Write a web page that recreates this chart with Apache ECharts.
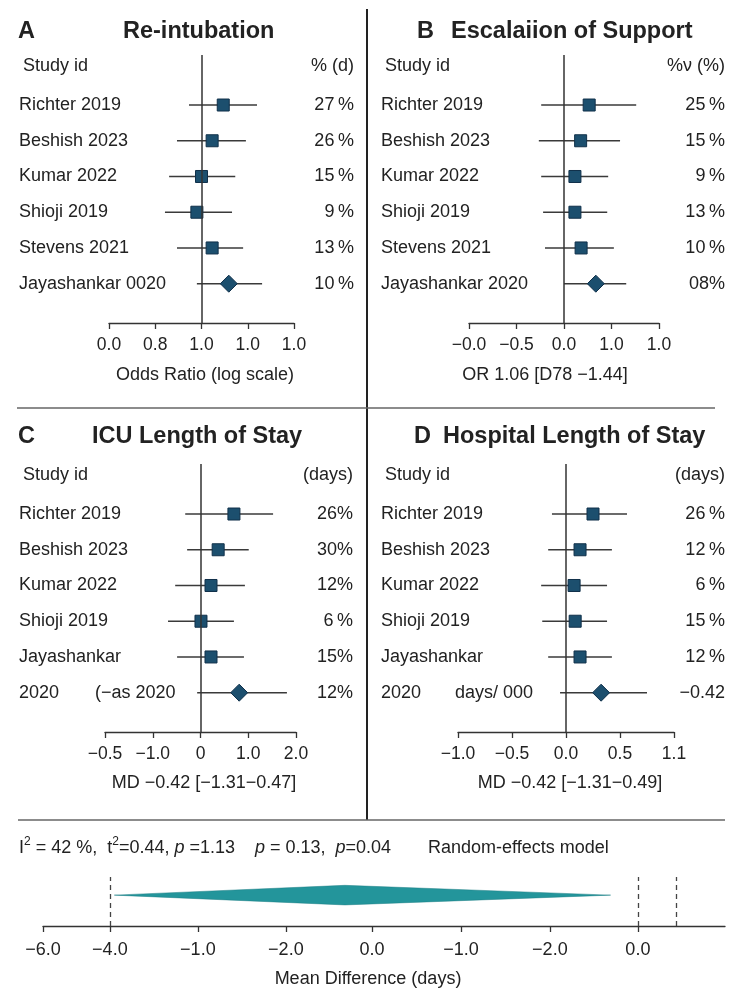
<!DOCTYPE html>
<html>
<head>
<meta charset="utf-8">
<script src="https://cdn.jsdelivr.net/npm/echarts@6/dist/echarts.min.js"></script>
<style>
    html, body { margin: 0; padding: 0; background: #fff; }
    #main { width: 750px; height: 1002px; }
</style>
</head>
<body>
<div id="main"></div>
<script>
// ============================================================
// Data (positions on each panel axis are in tick-index units)
// ============================================================

// A - Re-intubation
const studiesA = ['Richter 2019', 'Beshish 2023', 'Kumar 2022', 'Shioji 2019', 'Stevens 2021', 'Jayashankar 0020'];
const estA = [2.47, 2.23, 2.00, 1.90, 2.23, 2.59];
const loA = [1.73, 1.47, 1.30, 1.21, 1.47, 1.90];
const hiA = [3.20, 2.96, 2.73, 2.66, 2.90, 3.31];
const weightsA = ['27\u2009%', '26\u2009%', '15\u2009%', '9\u2009%', '13\u2009%', '10\u2009%'];
const ticksA = ['0.0', '0.8', '1.0', '1.0', '1.0'];

// B - Escalation of support
const studiesB = ['Richter 2019', 'Beshish 2023', 'Kumar 2022', 'Shioji 2019', 'Stevens 2021', 'Jayashankar 2020'];
const estB = [2.53, 2.35, 2.23, 2.23, 2.36, 2.67];
const loB = [1.52, 1.47, 1.52, 1.56, 1.60, 2.00];
const hiB = [3.52, 3.18, 2.93, 2.91, 3.05, 3.31];
const weightsB = ['25\u2009%', '15\u2009%', '9\u2009%', '13\u2009%', '10\u2009%', '08%'];
const ticksB = ['\u22120.0', '\u22120.5', '0.0', '1.0', '1.0'];

// C - ICU length of stay
const studiesC = ['Richter 2019', 'Beshish 2023', 'Kumar 2022', 'Shioji 2019', 'Jayashankar', '2020'];
const estC = [2.70, 2.37, 2.22, 2.01, 2.22, 2.81];
const loC = [1.68, 1.72, 1.47, 1.32, 1.51, 1.93];
const hiC = [3.52, 3.01, 2.93, 2.70, 2.91, 3.81];
const weightsC = ['26%', '30%', '12%', '6\u2009%', '15%', '12%'];
const ticksC = ['\u22120.5', '\u22121.0', '0', '1.0', '2.0'];

// D - Hospital length of stay
const studiesD = ['Richter 2019', 'Beshish 2023', 'Kumar 2022', 'Shioji 2019', 'Jayashankar', '2020'];
const estD = [2.50, 2.26, 2.15, 2.17, 2.26, 2.65];
const loD = [1.74, 1.67, 1.54, 1.56, 1.67, 1.89];
const hiD = [3.13, 2.85, 2.76, 2.76, 2.85, 3.50];
const weightsD = ['26\u2009%', '12\u2009%', '6\u2009%', '15\u2009%', '12\u2009%', '\u22120.42'];
const ticksD = ['\u22121.0', '\u22120.5', '0.0', '0.5', '1.1'];

// Bottom pooled panel
const pooled = [0.81, 3.43, 6.45];          // lo, est, hi on the bottom axis
const bottomTicks = [0, 0.76, 1.76, 2.76, 3.74, 4.75, 5.76, 6.76];
const bottomLabels = ['\u22126.0', '\u22124.0', '\u22121.0', '\u22122.0', '0.0', '\u22121.0', '\u22122.0', '0.0'];
const refLines = [0.76, 6.76, 7.2];

// ============================================================
// Layout
// ============================================================
const FONT = '"Liberation Sans", Arial, sans-serif';
const INK = '#222';
const ROWS_MIN = -0.4, ROWS_MAX = 7.1, GRID_H = 268;

const panels = [
    { letter: 'A', title: 'Re-intubation', studies: studiesA, est: estA, lo: loA, hi: hiA, w: weightsA, ticks: ticksA,
      head: '% (d)', axisName: 'Odds Ratio (log scale)', note: null,
      left: 109, right: 294, top: 55, textX: 19, wX: 354, letterX: 18, titleX: 123, titleY: 32, nameX: 205, nameY: 375 },
    { letter: 'B', title: 'Escalaiion of Support', studies: studiesB, est: estB, lo: loB, hi: hiB, w: weightsB, ticks: ticksB,
      head: '%\u03bd (%)', axisName: 'OR 1.06 [D78 \u22121.44]', note: null,
      left: 469, right: 659, top: 55, textX: 381, wX: 725, letterX: 417, titleX: 451, titleY: 32, nameX: 545, nameY: 375 },
    { letter: 'C', title: 'ICU Length of Stay', studies: studiesC, est: estC, lo: loC, hi: hiC, w: weightsC, ticks: ticksC,
      head: '(days)', axisName: 'MD \u22120.42 [\u22121.31\u22120.47]', note: '(\u2212as 2020', noteX: 95,
      left: 105, right: 296, top: 464, textX: 19, wX: 353, letterX: 18, titleX: 92, titleY: 437, nameX: 204, nameY: 783 },
    { letter: 'D', title: 'Hospital Length of Stay', studies: studiesD, est: estD, lo: loD, hi: hiD, w: weightsD, ticks: ticksD,
      head: '(days)', axisName: 'MD \u22120.42 [\u22121.31\u22120.49]', note: 'days/ 000', noteX: 455,
      left: 458, right: 674, top: 464, textX: 381, wX: 725, letterX: 414, titleX: 443, titleY: 437, nameX: 570, nameY: 783 }
];

const rowY = (p, r) => p.top + (r - ROWS_MIN) * GRID_H / (ROWS_MAX - ROWS_MIN);

function txt(x, y, text, extra) {
    return {
        type: 'text', x: x, y: y, silent: true,
        style: Object.assign({ text: text, font: '18px ' + FONT, fill: INK, align: 'left', verticalAlign: 'middle' }, extra || {})
    };
}

const grids = [], xAxes = [], yAxes = [], series = [], graphics = [];

panels.forEach((p, k) => {
    grids.push({ left: p.left, width: p.right - p.left, top: p.top, height: GRID_H });
    xAxes.push({
        gridIndex: k, type: 'value', min: 0, max: 4, interval: 1, position: 'bottom',
        axisLine: { onZero: false, lineStyle: { color: '#333', width: 1.3 } },
        axisTick: { length: 6, lineStyle: { color: '#333', width: 1.3 } },
        axisLabel: { margin: 13, fontSize: 17.5, fontFamily: FONT, color: INK, formatter: v => p.ticks[Math.round(v)] },
        splitLine: { show: false }
    });
    yAxes.push({ gridIndex: k, type: 'value', inverse: true, min: ROWS_MIN, max: ROWS_MAX, show: false });

    // confidence intervals
    series.push({
        type: 'custom', xAxisIndex: k, yAxisIndex: k, z: 2, silent: true,
        data: p.lo.map((l, i) => [l, p.hi[i], i + 1]),
        encode: { x: [0, 1], y: 2 },
        renderItem: (params, api) => {
            const a = api.coord([api.value(0), api.value(2)]);
            const b = api.coord([api.value(1), api.value(2)]);
            return { type: 'line', shape: { x1: a[0], y1: a[1], x2: b[0], y2: b[1] },
                     style: { stroke: '#3a3a3a', lineWidth: 1.4 } };
        }
    });
    // point estimates + null line
    series.push({
        type: 'scatter', xAxisIndex: k, yAxisIndex: k, z: 3, silent: true,
        data: p.est.map((e, i) => ({
            value: [e, i + 1],
            symbol: i === p.est.length - 1 ? 'diamond' : 'rect',
            symbolSize: i === p.est.length - 1 ? [17, 17] : 12
        })),
        itemStyle: { color: '#1c4f6e', borderColor: '#10304a', borderWidth: 1, opacity: 1 },
        markLine: {
            silent: true, symbol: 'none', label: { show: false },
            lineStyle: { color: '#333', width: 1.5, type: 'solid' },
            data: [{ xAxis: 2 }]
        }
    });

    // texts
    graphics.push(txt(p.letterX, p.titleY, p.letter, { font: 'bold 23.5px ' + FONT }));
    graphics.push(txt(p.titleX, p.titleY, p.title, { font: 'bold 23.5px ' + FONT }));
    graphics.push(txt(p.textX + 4, rowY(p, -0.1), 'Study id'));
    graphics.push(txt(p.wX, rowY(p, -0.1), p.head, { align: 'right' }));
    p.studies.forEach((s, i) => {
        graphics.push(txt(p.textX, rowY(p, i + 1), s));
        graphics.push(txt(p.wX, rowY(p, i + 1), p.w[i], { align: 'right' }));
    });
    if (p.note) graphics.push(txt(p.noteX, rowY(p, 6), p.note));
    graphics.push(txt(p.nameX, p.nameY, p.axisName, { align: 'center' }));
});

// ---- bottom pooled panel ----
grids.push({ left: 43, width: 682, top: 877, height: 49 });
xAxes.push({
    gridIndex: 4, type: 'value', min: 0, max: 7.75,
    axisLine: { onZero: false, lineStyle: { color: '#333', width: 1.3 } },
    axisTick: { length: 6, customValues: bottomTicks, lineStyle: { color: '#333', width: 1.3 } },
    axisLabel: {
        margin: 15, fontSize: 18, fontFamily: FONT, color: INK, customValues: bottomTicks,
        formatter: v => bottomLabels[bottomTicks.findIndex(t => Math.abs(t - v) < 1e-6)]
    },
    splitLine: { show: false }
});
yAxes.push({ gridIndex: 4, type: 'value', min: 0, max: 1, show: false });

const DIA_Y = 0.63, DIA_H = 0.2;
series.push({
    type: 'custom', xAxisIndex: 4, yAxisIndex: 4, silent: true, z: 3,
    data: [pooled],
    renderItem: (params, api) => {
        const lo = api.value(0), est = api.value(1), hi = api.value(2);
        return {
            type: 'polygon',
            shape: { points: [api.coord([lo, DIA_Y]), api.coord([est, DIA_Y + DIA_H]),
                              api.coord([hi, DIA_Y]), api.coord([est, DIA_Y - DIA_H])] },
            style: { fill: '#23959b', stroke: '#1d7f85', lineWidth: 0.5 }
        };
    }
});
series.push({
    type: 'scatter', xAxisIndex: 4, yAxisIndex: 4, data: [], silent: true,
    markLine: {
        silent: true, symbol: 'none', label: { show: false },
        lineStyle: { color: '#444', width: 1.3, type: [5, 4] },
        data: refLines.map(v => ({ xAxis: v }))
    }
});

graphics.push({
    type: 'text', x: 19, y: 848, silent: true,
    style: {
        text: '{n|I}{s|2}{n| = 42 %,  t}{s|2}{n|=0.44, }{i|p}{n| =1.13    }{i|p}{n| = 0.13,  }{i|p}{n|=0.04}',
        verticalAlign: 'middle', fill: INK,
        rich: {
            n: { fontSize: 18, fontFamily: FONT, color: INK, lineHeight: 24 },
            i: { fontSize: 18, fontFamily: FONT, fontStyle: 'italic', color: INK, lineHeight: 24 },
            s: { fontSize: 12, fontFamily: FONT, color: INK, lineHeight: 24, verticalAlign: 'top' }
        }
    }
});
graphics.push(txt(428, 848, 'Random-effects model'));
graphics.push(txt(368, 979, 'Mean Difference (days)', { align: 'center' }));

// ---- dividers ----
graphics.push({ type: 'line', silent: true, shape: { x1: 367, y1: 9, x2: 367, y2: 820 }, style: { stroke: '#222', lineWidth: 2 } });
graphics.push({ type: 'line', silent: true, shape: { x1: 17, y1: 408, x2: 715, y2: 408 }, style: { stroke: '#666', lineWidth: 1.5 } });
graphics.push({ type: 'line', silent: true, shape: { x1: 18, y1: 820, x2: 725, y2: 820 }, style: { stroke: '#666', lineWidth: 1.5 } });

const chart = echarts.init(document.getElementById('main'));
chart.setOption({
    backgroundColor: '#fff',
    animation: false,
    grid: grids,
    xAxis: xAxes,
    yAxis: yAxes,
    series: series,
    graphic: { elements: graphics }
});
</script>
</body>
</html>
